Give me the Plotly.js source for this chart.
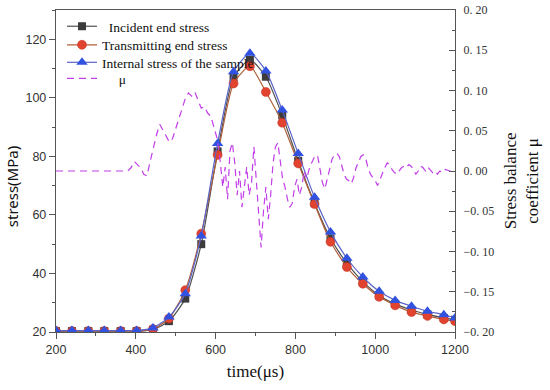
<!DOCTYPE html>
<html>
<head>
<meta charset="utf-8">
<script src="https://cdn.plot.ly/plotly-3.0.1.min.js"></script>
<style>html,body{margin:0;padding:0;background:#fff;}#chart{width:550px;height:390px;}</style>
</head>
<body>
<div id="chart"></div>
<script>
// time (µs) of the sampled points
const time = [200, 240, 281, 321, 362, 402, 443, 483, 524, 564, 605, 645, 686, 726, 767, 807, 848, 888, 929, 969, 1010, 1050, 1091, 1131, 1172, 1200];
// stress (MPa)
const incident = [20.3, 20.3, 20.3, 20.3, 20.3, 20.3, 20.8, 23.7, 31.4, 50.0, 81.7, 107.0, 113.0, 107.2, 94.0, 78.5, 64.0, 52.0, 43.5, 37.2, 32.5, 29.6, 27.5, 26.0, 24.8, 24.2];
const transmitting = [20.3, 20.3, 20.3, 20.3, 20.3, 20.3, 21.0, 24.6, 34.3, 53.6, 80.5, 104.9, 110.8, 102.0, 91.5, 77.6, 63.7, 50.8, 42.2, 36.5, 32.0, 29.1, 26.8, 25.5, 24.3, 23.7];
const internal = [20.5, 20.5, 20.5, 20.5, 20.5, 20.5, 21.4, 25.1, 33.1, 52.8, 84.4, 108.9, 115.2, 109.2, 95.8, 81.0, 66.0, 54.2, 45.2, 38.8, 33.9, 30.8, 28.8, 27.1, 25.9, 24.8];
// stress balance coefficient µ
const muTime = [200, 380, 388, 396, 404, 412, 420, 428, 436, 444, 452, 460, 468, 476, 484, 492, 500, 508, 516, 524, 532, 540, 548, 556, 564, 572, 580, 588, 596, 604, 612, 618, 624, 630, 636, 642, 648, 654, 660, 666, 672, 678, 684, 690, 696, 702, 708, 714, 720, 726, 732, 738, 744, 750, 756, 762, 768, 774, 780, 786, 792, 798, 804, 810, 816, 822, 828, 836, 844, 850, 856, 862, 868, 874, 880, 886, 892, 898, 904, 910, 916, 922, 928, 934, 940, 946, 952, 958, 964, 970, 976, 982, 988, 994, 1000, 1006, 1012, 1018, 1024, 1030, 1036, 1042, 1048, 1054, 1060, 1066, 1072, 1078, 1084, 1090, 1096, 1102, 1108, 1114, 1120, 1126, 1132, 1138, 1144, 1150, 1156, 1162, 1168, 1176, 1184, 1192, 1200];
const mu = [0, 0, 0.004, 0.012, 0.008, 0.004, -0.004, -0.006, 0.012, 0.030, 0.045, 0.058, 0.050, 0.042, 0.036, 0.040, 0.052, 0.065, 0.078, 0.090, 0.097, 0.093, 0.098, 0.088, 0.078, 0.080, 0.072, 0.068, 0.055, 0.040, 0.010, -0.020, 0.005, -0.035, 0.025, 0.035, 0.010, -0.030, 0.000, -0.045, -0.020, 0.005, -0.030, -0.015, 0.030, -0.010, -0.060, -0.095, -0.050, -0.020, -0.060, -0.030, 0.010, 0.030, 0.035, 0.010, -0.010, -0.020, -0.035, -0.045, -0.040, -0.020, -0.010, -0.030, -0.020, 0.000, -0.010, 0.005, 0.015, 0.020, 0.018, 0.000, -0.015, -0.022, -0.010, 0.005, 0.015, 0.020, 0.022, 0.018, 0.008, -0.004, -0.010, -0.012, -0.016, -0.008, 0.004, 0.010, 0.018, 0.020, 0.016, 0.004, -0.004, -0.008, -0.012, -0.018, -0.010, -0.002, 0.004, 0.010, 0.008, 0.002, -0.002, -0.004, 0.000, 0.004, 0.006, 0.004, 0.008, 0.006, 0.002, -0.004, 0.000, 0.006, 0.004, 0.000, 0.005, 0.002, -0.002, 0.000, -0.004, 0.000, -0.002, 0.002, 0.000, -0.001, 0.001];
const muTickVals = [-0.2, -0.15, -0.1, -0.05, 0, 0.05, 0.1, 0.15, 0.2];
const muTickText = ['\u22120. 20', '\u22120. 15', '\u22120. 10', '\u22120. 05', '0. 00', '0. 05', '0. 10', '0. 15', '0. 20'];
const names = ['\u00a0\u00a0Incident end stress', 'Transmitting end stress', 'Internal stress of the sample', '\u00a0\u00a0\u00a0\u00a0\u00a0\u03bc'];

const serif = '"Liberation Serif", "DejaVu Serif", serif';
const sans = '"Liberation Sans", Arial, sans-serif';

const traces = [
  {x: time, y: incident, name: names[0], mode: 'lines+markers', legend: 'legend',
   line: {color: '#505050', width: 1.2, shape: 'spline', smoothing: 0.6},
   marker: {symbol: 'square', size: 8, color: '#3c3c3c'}},
  {x: time, y: transmitting, name: names[1], mode: 'lines+markers', legend: 'legend2',
   line: {color: '#b0603a', width: 1.2, shape: 'spline', smoothing: 0.6},
   marker: {symbol: 'circle', size: 9, color: '#e2432f', line: {color: '#c03020', width: 0.5}}},
  {x: time, y: internal, name: names[2], mode: 'lines+markers', legend: 'legend3',
   line: {color: '#5a64c8', width: 1.2, shape: 'spline', smoothing: 0.6},
   marker: {symbol: 'triangle-up', size: 10, color: '#3152e0'}},
  {x: muTime, y: mu, name: names[3], mode: 'lines', yaxis: 'y2', legend: 'legend4',
   line: {color: '#c23ee8', width: 1.2, dash: '7px,5px'}}
];

function leg(y) {
  return {x: 0.015, y: y, xanchor: 'left', yanchor: 'top', bgcolor: 'rgba(0,0,0,0)',
          font: {family: serif, size: 13.5, color: '#111'}, itemwidth: 30};
}

const layout = {
  width: 550, height: 390,
  margin: {l: 56, r: 95, t: 10, b: 58},
  paper_bgcolor: '#fff', plot_bgcolor: '#fff',
  showlegend: true,
  legend: leg(0.997),
  legend2: leg(0.9394),
  legend3: leg(0.885),
  legend4: leg(0.835),
  xaxis: {range: [200, 1200], tickvals: [200, 400, 600, 800, 1000, 1200], ticks: 'outside', ticklen: 6,
          tickcolor: '#555', showline: true, linecolor: '#555', linewidth: 1.2, mirror: true,
          showgrid: false, zeroline: false,
          minor: {dtick: 100, tick0: 200, ticks: 'outside', ticklen: 3, tickcolor: '#555'},
          tickfont: {family: sans, size: 12.5, color: '#333'},
          title: {text: 'time(\u03bcs)', font: {family: serif, size: 17, color: '#111'}, standoff: 8}},
  yaxis: {range: [20, 130], tickvals: [20, 40, 60, 80, 100, 120], ticks: 'outside', ticklen: 6,
          tickcolor: '#555', showline: true, linecolor: '#555', linewidth: 1.2,
          showgrid: false, zeroline: false,
          minor: {dtick: 10, tick0: 20, ticks: 'outside', ticklen: 3, tickcolor: '#555'},
          tickfont: {family: sans, size: 12.5, color: '#333'}},
  yaxis2: {overlaying: 'y', side: 'right', range: [-0.2, 0.2], tickvals: muTickVals, ticktext: muTickText,
           ticks: 'inside', ticklen: 6, tickcolor: '#555', showline: true, linecolor: '#555', linewidth: 1.2,
           showgrid: false, zeroline: false, ticklabelstandoff: 5,
           minor: {dtick: 0.025, tick0: 0, ticks: 'inside', ticklen: 3, tickcolor: '#555'},
           tickfont: {family: serif, size: 12, color: '#333'}},
  annotations: [
    {text: 'stress(MPa)', xref: 'paper', yref: 'paper', x: -0.11, y: 0.45, textangle: -90,
     showarrow: false, font: {family: '"Noto Sans", sans-serif', size: 15, color: '#111'}, xanchor: 'center', yanchor: 'middle'},
    {text: 'Stress balance<br>coefficient \u03bc', xref: 'paper', yref: 'paper', x: 1.167, y: 0.47, textangle: -90,
     showarrow: false, font: {family: serif, size: 17, color: '#111'}, xanchor: 'center', yanchor: 'middle'}
  ]
};

Plotly.newPlot('chart', traces, layout, {displayModeBar: false, staticPlot: true});
</script>
</body>
</html>
